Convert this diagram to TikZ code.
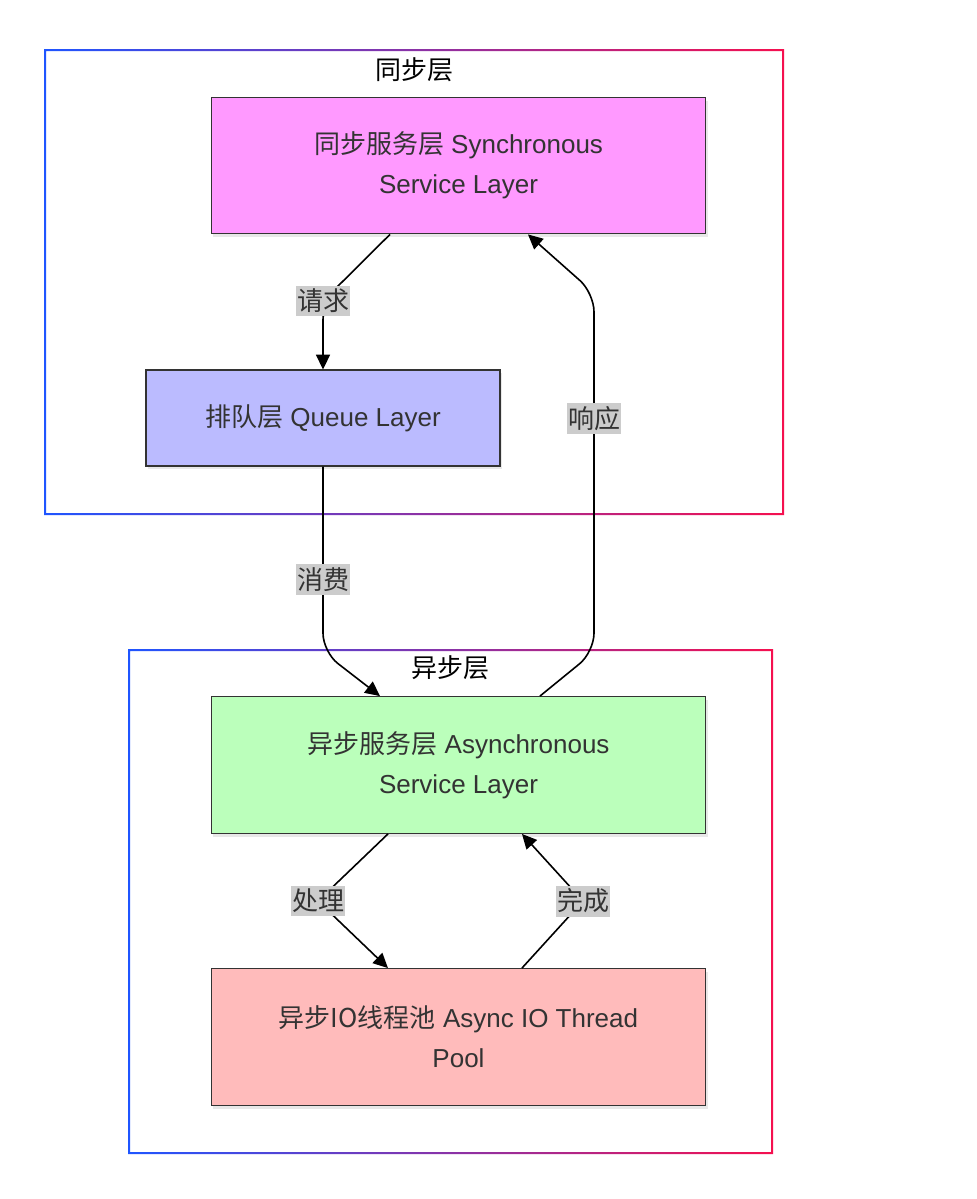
\documentclass[tikz,border=0pt]{standalone}
\usepackage{fontspec}
\setmainfont{Liberation Sans}
\newfontfamily\cjk{Noto Sans CJK SC}
\usetikzlibrary{arrows.meta,shadows}

\definecolor{clblue}{HTML}{1F55FF}
\definecolor{clred}{HTML}{F5104F}
\definecolor{txtgray}{HTML}{333333}
\definecolor{lblgray}{HTML}{CCCCCC}
\definecolor{syncfill}{HTML}{FF99FF}
\definecolor{queuefill}{HTML}{BBBBFF}
\definecolor{asyncfill}{HTML}{BBFFBB}
\definecolor{poolfill}{HTML}{FFBBBB}

\begin{document}
\begin{tikzpicture}[
  x=0.75pt, y=-0.75pt,
  layer/.style={draw=txtgray, line width=0.9pt, text=txtgray, align=center,
    font=\fontsize{19.5pt}{30pt}\selectfont,
    drop shadow={opacity=0.18, shadow xshift=1.5pt, shadow yshift=-2.5pt}},
  wide/.style={layer, minimum width=371pt, minimum height=102.5pt},
  lbl/.style={sharp corners, fill=lblgray, text=txtgray, inner xsep=0.5pt, inner ysep=2.5pt,
    font=\fontsize{19.5pt}{22pt}\selectfont\cjk},
  ctitle/.style={text=black, font=\fontsize{19.5pt}{22pt}\selectfont\cjk},
  arr/.style={line width=1.2pt, rounded corners=14pt, -{Triangle[sharp, length=11pt, width=10.5pt]}},
]
\useasboundingbox (0,0) rectangle (977,1199);

\shade [left color=clblue, right color=clred, even odd rule] (44,49) rectangle (784,515) (46,51) rectangle (782,513);
\shade [left color=clblue, right color=clred, even odd rule] (128,649) rectangle (773,1154) (130,651) rectangle (771,1152);
\node [ctitle] (synctitle) at (414,70) {同步层};
\node [ctitle] (asynctitle) at (450,668) {异步层};

\node [wide, fill=syncfill] (sync) at (458.5,165.5) {{\cjk 同步服务层} Synchronous\\Service Layer};
\node [layer, fill=queuefill, minimum width=265.5pt, minimum height=72pt] (queue) at (323,418) {{\cjk 排队层} Queue Layer};
\node [wide, fill=asyncfill] (async) at (458.5,765) {{\cjk 异步服务层} Asynchronous\\Service Layer};
\node [wide, fill=poolfill] (pool) at (458.5,1037) {{\cjk 异步IO线程池} Async IO Thread\\Pool};

\draw [arr] ([xshift=-51.4pt]sync.south) -- (323,301) node [lbl] {请求} -- (queue.north);
\draw [arr] (queue.south) -- (323,652) node [lbl, pos=0.61] {消费} -- ([xshift=-58.9pt]async.north);
\draw [arr] ([xshift=61.1pt]async.north) -- (594,652) -- (594,293) node [lbl, pos=0.65] {响应} -- ([xshift=52.1pt]sync.south);
\draw [arr] ([xshift=-52.9pt]async.south) -- (318,901) node [lbl] {处理} -- ([xshift=-52.9pt]pool.north);
\draw [arr] ([xshift=47.6pt]pool.north) -- (583,901) node [lbl] {完成} -- ([xshift=47.6pt]async.south);

\end{tikzpicture}
\end{document}
